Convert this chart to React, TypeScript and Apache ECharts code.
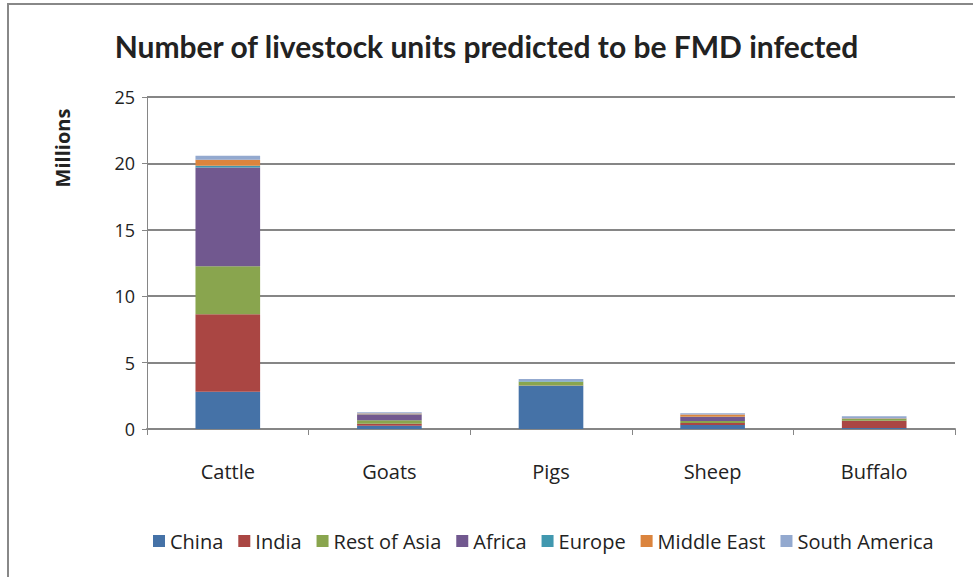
import React, { useEffect, useRef } from "react";
import * as echarts from "echarts";

const categories = ["Cattle", "Goats", "Pigs", "Sheep", "Buffalo"];
const seriesNames = ["China", "India", "Rest of Asia", "Africa", "Europe", "Middle East", "South America"];
const china = [2.8, 0.25, 3.25, 0.3, 0.07];
const india = [5.85, 0.15, 0.02, 0.15, 0.55];
const restOfAsia = [3.6, 0.25, 0.28, 0.15, 0.15];
const africa = [7.45, 0.45, 0.01, 0.3, 0.02];
const europe = [0.13, 0.02, 0.03, 0.02, 0.0];
const middleEast = [0.45, 0.05, 0.0, 0.17, 0.02];
const southAmerica = [0.3, 0.1, 0.18, 0.1, 0.15];
const colors = ["#4572A7", "#AA4643", "#89A54E", "#71588F", "#4198AF", "#DB843D", "#93A9CF"];
const yTicks = [0, 5, 10, 15, 20, 25];

const FONT = "'Open Sans', sans-serif";
const TITLE_FONT = "Lato, sans-serif";

export default function App() {
  const ref = useRef<HTMLDivElement>(null);
  useEffect(() => {
    if (!ref.current) return;
    const chart = echarts.init(ref.current, null, { renderer: "svg" });
    const values = [china, india, restOfAsia, africa, europe, middleEast, southAmerica];
    chart.setOption({
      animation: false,
      color: colors,
      textStyle: { fontFamily: FONT },
      title: {
        text: "Number of livestock units predicted to be FMD infected",
        left: "center",
        top: 26,
        textStyle: { fontFamily: TITLE_FONT, fontSize: 30, fontWeight: "bold", color: "#222" },
      },
      legend: {
        top: 526,
        left: 148,
        itemWidth: 12,
        itemHeight: 12,
        itemGap: 15,
        icon: "rect",
        textStyle: { fontFamily: FONT, fontSize: 20, color: "#222" },
        data: seriesNames,
      },
      graphic: [
        {
          type: "rect",
          shape: { x: 8, y: 4, width: 1000, height: 700 },
          style: { fill: "none", stroke: "#888", lineWidth: 2 },
          silent: true,
        },
        {
          type: "text",
          x: 62,
          y: 148,
          rotation: Math.PI / 2,
          style: {
            text: "Millions",
            font: `bold 20px ${FONT}`,
            fill: "#222",
            align: "center",
            verticalAlign: "middle",
          },
        },
      ],
      grid: { left: 147, right: 18, top: 97, bottom: 148 },
      xAxis: {
        type: "category",
        data: categories,
        axisLine: { lineStyle: { color: "#868686", width: 2 } },
        axisTick: { show: true, length: 6, lineStyle: { color: "#868686", width: 1 } },
        axisLabel: { fontFamily: FONT, fontSize: 20, color: "#222", margin: 32 },
      },
      yAxis: {
        type: "value",
        min: yTicks[0],
        max: yTicks[yTicks.length - 1],
        interval: 5,
        axisLine: { show: true, lineStyle: { color: "#868686", width: 1 } },
        axisTick: { show: true, length: 5, lineStyle: { color: "#868686" } },
        axisLabel: { fontFamily: FONT, fontSize: 18, color: "#222", margin: 12 },
        splitLine: { lineStyle: { color: "#868686", width: 2 } },
      },
      series: seriesNames.map((name, i) => ({
        name,
        type: "bar",
        stack: "total",
        barWidth: "40%",
        data: values[i],
        itemStyle: { color: colors[i] },
      })),
    });
    return () => chart.dispose();
  }, []);
  return (
    <div
      ref={ref}
      style={{ position: "absolute", left: 0, top: 0, width: 973, height: 577 }}
    />
  );
}
